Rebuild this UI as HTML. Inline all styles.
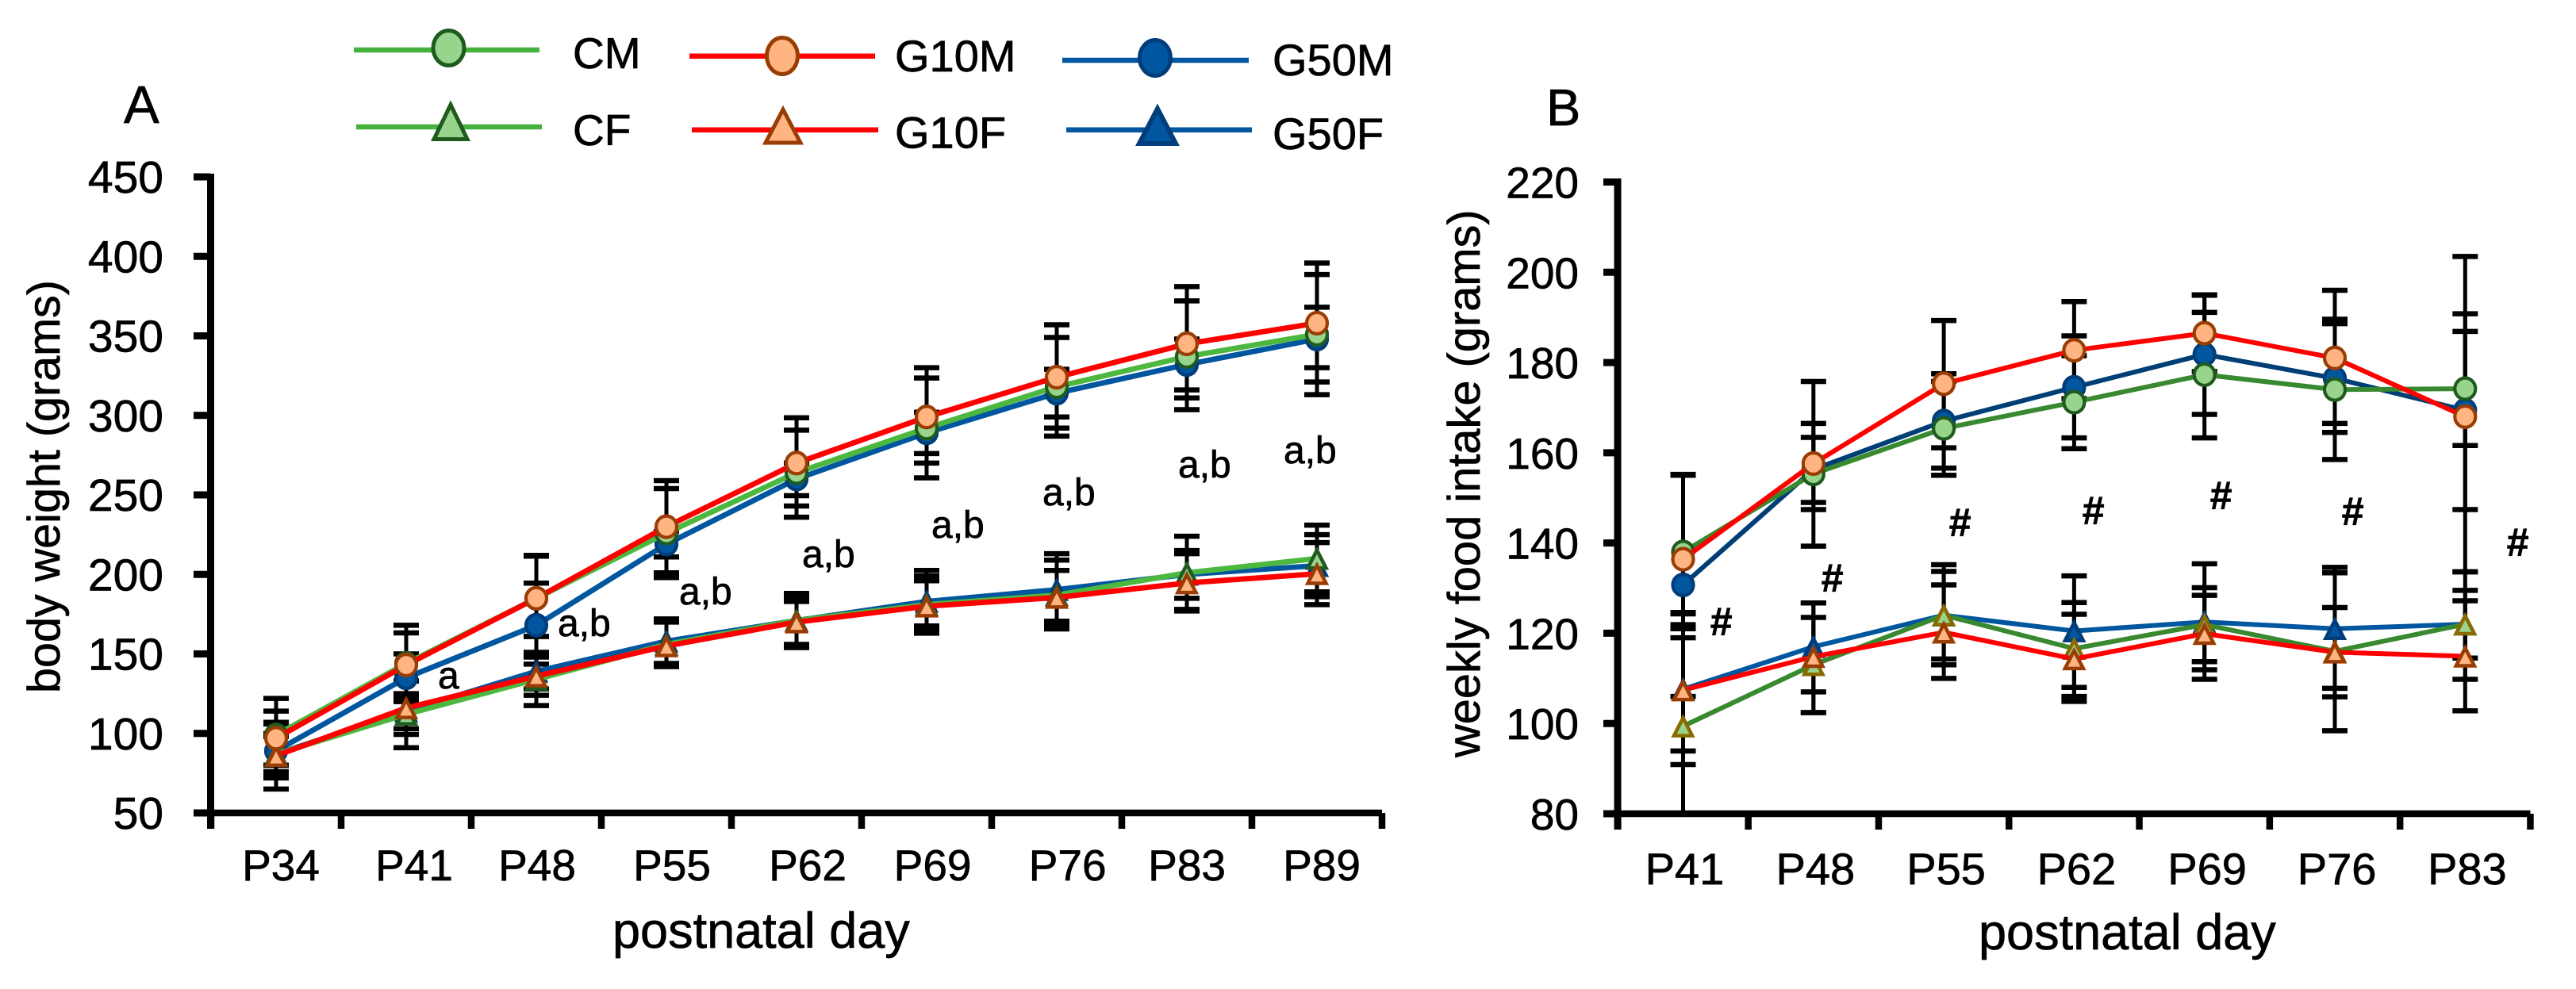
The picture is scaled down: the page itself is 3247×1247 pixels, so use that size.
<!DOCTYPE html>
<html lang="en">
<head>
<meta charset="utf-8">
<title>Body weight and weekly food intake by postnatal day</title>
<style>
  html, body { margin: 0; padding: 0; background: #fff; }
  svg { display: block; }
  text { font-family: "Liberation Sans", Arial, sans-serif; fill: #000; stroke: #000; stroke-width: 0.7px; }
</style>
</head>
<body>
<svg id="figure" xmlns="http://www.w3.org/2000/svg" width="3247" height="1247" viewBox="0 0 3247 1247">
  <rect x="0" y="0" width="3247" height="1247" fill="#fff"/>

  <g id="legend">
    <g>
      <line x1="446" y1="63" x2="680" y2="63" stroke="#46b13c" stroke-width="6.5"/>
      <ellipse cx="565.5" cy="60.5" rx="19.5" ry="22" fill="#98d48c" stroke="#1f5a1f" stroke-width="5"/>
      <text x="722" y="86" font-size="55">CM</text>
    </g>
    <g>
      <line x1="449" y1="160" x2="683" y2="160" stroke="#46b13c" stroke-width="6.5"/>
      <polygon points="568,132 589,175.5 547,175.5" fill="#98d48c" stroke="#1f5a1f" stroke-width="5"/>
      <text x="722" y="183" font-size="55">CF</text>
    </g>
    <g>
      <line x1="869" y1="70.7" x2="1103" y2="70.7" stroke="#ff0000" stroke-width="6.5"/>
      <ellipse cx="986" cy="70.5" rx="19.5" ry="23" fill="#ffb482" stroke="#9a3d05" stroke-width="5"/>
      <text x="1128" y="90" font-size="56">G10M</text>
    </g>
    <g>
      <line x1="872" y1="163.7" x2="1107" y2="163.7" stroke="#ff0000" stroke-width="6.5"/>
      <polygon points="987,138 1009,180 965,180" fill="#ffb482" stroke="#9a3d05" stroke-width="5"/>
      <text x="1128" y="186.7" font-size="56">G10F</text>
    </g>
    <g>
      <line x1="1339" y1="76" x2="1574" y2="76" stroke="#00569f" stroke-width="6.5"/>
      <ellipse cx="1456" cy="73" rx="19.5" ry="22.5" fill="#00569f" stroke="#003d7a" stroke-width="5"/>
      <text x="1604" y="95" font-size="56">G50M</text>
    </g>
    <g>
      <line x1="1344" y1="163.7" x2="1578" y2="163.7" stroke="#00569f" stroke-width="6.5"/>
      <polygon points="1459,137 1482,181 1436,181" fill="#00569f" stroke="#003d7a" stroke-width="6"/>
      <text x="1604" y="188" font-size="56">G50F</text>
    </g>
  </g>

  <text x="156" y="155" font-size="67">A</text>
  <text x="1949" y="158" font-size="65">B</text>

  <text transform="translate(75,874) rotate(-90)" font-size="57.5">body weight (grams)</text>
  <text transform="translate(1865,955) rotate(-90)" font-size="57.8">weekly food intake (grams)</text>
  <text x="772" y="1195" font-size="63">postnatal day</text>
  <text x="2494" y="1197" font-size="63">postnatal day</text>

  <g id="chart-a"></g>
  <g id="chart-b"></g>

  <g font-size="48">
    <text x="552" y="868">a</text>
    <text x="703" y="802">a,b</text>
    <text x="856" y="762">a,b</text>
    <text x="1011" y="715">a,b</text>
    <text x="1174" y="678">a,b</text>
    <text x="1314" y="637">a,b</text>
    <text x="1485" y="602">a,b</text>
    <text x="1618" y="584">a,b</text>
  </g>
  <g font-size="50" font-weight="bold" font-style="italic">
    <text x="2155" y="801">#</text>
    <text x="2295" y="746">#</text>
    <text x="2456" y="676">#</text>
    <text x="2624" y="661">#</text>
    <text x="2785" y="642">#</text>
    <text x="2951" y="662">#</text>
    <text x="3159" y="701">#</text>
  </g>
</svg>

<script>
/* ---------- Panel A: body weight (grams) ---------- */
const aDays = ['P34','P41','P48','P55','P62','P69','P76','P83','P89'];
const aTicks = [50,100,150,200,250,300,350,400,450];

const aCM     = [99,144,185,226,264,292,318,337,351];
const aCMHi   = [122,168,211.5,254,290.7,323.5,349,372,388.6];
const aCMLo   = [76,123,161,198,236,260.7,287,303.6,313];

const aCF     = [87,112,134,156,171,181,187,201,210];
const aCFHi   = [107,133,151,171.5,188,202.5,209,224,231];
const aCFLo   = [65,91,117.5,143,155,163,165.7,178,189];

const aG10M   = [97,143,185,230,270,299,324,345,358];
const aG10MHi = [114,163.2,212,259,298.5,330,357,381,395.8];
const aG10MLo = [80,124,161,201,243,270,292,311,321];

const aG10F   = [86,116,136,155,170,180,185.5,194.6,200.4];
const aG10FHi = [98,133,148,170,183,196,202.5,213,220];
const aG10FLo = [74,99.4,124,142,154,165,168,177,181];

const aG50M   = [89,135,168,219,260,289,314,332,348];
const aG50MHi = [106,150,194.5,227,270,302,329,348,368];
const aG50MLo = [72,120,143.6,211,249.5,276,299,316,330];

const aG50F   = [87,114,139,158,171,183,190.4,200,205.5];
const aG50FHi = [100,125,150,172,186,199,213,215,225];
const aG50FLo = [80,103,128,144,156,167.6,170.6,185,186];

/* ---------- Panel B: weekly food intake (grams) ---------- */
const bDays = ['P41','P48','P55','P62','P69','P76','P83'];
const bTicks = [80,100,120,140,160,180,200,220];

const bCM     = [138,155.3,165.4,171.2,177.3,174,174.2];
const bCMHi   = [155,166.5,175.8,181.5,191.1,189.6,203.5];
const bCMLo   = [121,147.4,155,160.9,163.3,158.5,147.4];

const bCF     = [99.4,113,124,116.6,121.9,116,122];
const bCFHi   = [124.3,123.5,135.2,126.8,130.1,134.6,133.6];
const bCFLo   = [80,102.4,113,106,113.7,98.4,109.8];

const bG10M   = [136.4,157.6,175.3,182.7,186.5,181,168];
const bG10MHi = [155,175.8,189.3,193.5,194.9,196,190.8];
const bG10MLo = [119,139.3,161.1,172,178,166.5,133.6];

const bG10F   = [107.4,114.8,120.2,114.3,119.9,115.8,114.9];
const bG10FHi = [124.6,126.7,130.7,124.2,128.4,125.7,127.2];
const bG10FLo = [90.9,102.4,110,104.9,111.9,105.9,102.8];

const bG50M   = [130.7,156.3,167,174.5,181.8,176.5,169.4];
const bG50MHi = [155.2,163.4,177.5,185.9,195,188.6,186.9];
const bG50MLo = [106,149,156.6,163.3,168.5,164.5,161.6];

const bG50F   = [107.6,117,124,120.5,122.5,121,122];
const bG50FHi = [121.9,126.7,133.7,132.7,135.4,133.4,129.5];
const bG50FLo = [93.9,107,114.3,108,109.8,107.8,114.5];

/* ---------- axis functions ---------- */
function xA(i) { return 348 + i * 164; }
function yA(v) { return 1025 - (v - 50) * 802 / 400; }
function xB(i) { return 2121.5 + i * 164.3; }
function yB(v) { return 1026 - (v - 80) * 796.5 / 140; }

const NS = 'http://www.w3.org/2000/svg';

function make(tag, parent, attrs, label) {
  const el = document.createElementNS(NS, tag);
  for (const k in attrs) el.setAttribute(k, attrs[k]);
  
  
  parent.appendChild(el);
  return el;
}

function drawErrorBars(root, x, y, hi, lo, label) {
  const g = make('g', root, {}, label + '-error-bars');
  hi.forEach(function (h, i) {
    const cx = x(i);
    make('line', g, { x1: cx, x2: cx, y1: y(h), y2: y(lo[i]), stroke: '#000', 'stroke-width': 5 }, label + '-error-stem');
    make('line', g, { x1: cx - 16, x2: cx + 16, y1: y(h), y2: y(h), stroke: '#000', 'stroke-width': 6.5 }, label + '-error-cap-high');
    make('line', g, { x1: cx - 16, x2: cx + 16, y1: y(lo[i]), y2: y(lo[i]), stroke: '#000', 'stroke-width': 6.5 }, label + '-error-cap-low');
  });
}

function drawSeries(root, x, y, vals, style, label, lineWidth) {
  const g = make('g', root, {}, label + '-series');
  const pts = vals.map(function (v, i) { return x(i) + ',' + y(v); }).join(' ');
  make('polyline', g, { points: pts, fill: 'none', stroke: style.line, 'stroke-width': lineWidth, 'stroke-linejoin': 'round' }, label + '-line');
  vals.forEach(function (v, i) {
    const cx = x(i), cy = y(v);
    if (style.shape === 'circle') {
      make('ellipse', g, { cx: cx, cy: cy, rx: 13, ry: 13.5, fill: style.fill, stroke: style.edge, 'stroke-width': 4.2 }, label + '-point');
    } else {
      const tri = cx + ',' + (cy - 10.5) + ' ' + (cx + 11.5) + ',' + (cy + 12) + ' ' + (cx - 11.5) + ',' + (cy + 12);
      make('polygon', g, { points: tri, fill: style.fill, stroke: style.edge, 'stroke-width': 4.5 }, label + '-point');
    }
  });
}

function drawAxes(root, x0, yTop, yBase, tickX, yTickLeft, y, ticks, labelRight, fontY) {
  const g = make('g', root, {}, 'axes');
  const x1 = tickX[tickX.length - 1];
  make('line', g, { x1: x0, x2: x0, y1: yTop, y2: yBase + 20, stroke: '#000', 'stroke-width': 9 }, 'y-axis-line');
  make('line', g, { x1: x0 - 4, x2: x1, y1: yBase, y2: yBase, stroke: '#000', 'stroke-width': 8.5 }, 'x-axis-line');
  ticks.forEach(function (t) {
    make('line', g, { x1: yTickLeft, x2: x0, y1: y(t), y2: y(t), stroke: '#000', 'stroke-width': 9 }, 'y-tick-mark');
    const lab = make('text', g, { x: labelRight, y: y(t) + 20, 'text-anchor': 'end', 'font-size': fontY }, 'y-tick-label');
    lab.textContent = t;
  });
  tickX.forEach(function (tx) {
    make('line', g, { x1: tx, x2: tx, y1: yBase, y2: yBase + 20, stroke: '#000', 'stroke-width': 8.5 }, 'x-tick-mark');
  });
  return g;
}

function drawPanel(root, x, y, days, groups, axisCfg, labelShift, labelY, labelSize) {
  groups.forEach(function (s) { drawErrorBars(root, x, y, s.hi, s.lo, s.name); });
  groups.forEach(function (s) { drawSeries(root, x, y, s.vals, s.style, s.name, axisCfg.lineWidth); });
  const tickX = [];
  for (let i = 0; i <= days.length; i++) tickX.push(x(i) - axisCfg.step / 2 - axisCfg.tickShift);
  const g = drawAxes(root, axisCfg.x0, axisCfg.yTop, axisCfg.yBase, tickX, axisCfg.tickLeft, y, axisCfg.ticks, axisCfg.labelRight, axisCfg.fontY);
  days.forEach(function (d, i) {
    const lab = make('text', g, { x: x(i) + labelShift[i], y: labelY, 'text-anchor': 'middle', 'font-size': labelSize }, 'x-tick-label');
    lab.textContent = d;
  });
}

const redCircle = { shape: 'circle', line: '#ff0000', fill: '#ffb482', edge: '#9a3d05' };
const redTri    = { shape: 'tri',    line: '#ff0000', fill: '#ffb482', edge: '#9a3d05' };

drawPanel(document.getElementById('chart-a'), xA, yA, aDays, [
  { name: 'g50f', vals: aG50F, hi: aG50FHi, lo: aG50FLo, style: { shape: 'tri', line: '#00569f', fill: '#00569f', edge: '#003d7a' } },
  { name: 'g50m', vals: aG50M, hi: aG50MHi, lo: aG50MLo, style: { shape: 'circle', line: '#00569f', fill: '#00569f', edge: '#003d7a' } },
  { name: 'cf',   vals: aCF,   hi: aCFHi,   lo: aCFLo,   style: { shape: 'tri', line: '#4db840', fill: '#98d48c', edge: '#1f5a1f' } },
  { name: 'cm',   vals: aCM,   hi: aCMHi,   lo: aCMLo,   style: { shape: 'circle', line: '#4db840', fill: '#98d48c', edge: '#1f5a1f' } },
  { name: 'g10f', vals: aG10F, hi: aG10FHi, lo: aG10FLo, style: redTri },
  { name: 'g10m', vals: aG10M, hi: aG10MHi, lo: aG10MLo, style: redCircle }
], { x0: 265.5, yTop: 219, yBase: 1025, step: 164, tickShift: 0, tickLeft: 244, ticks: aTicks, labelRight: 206, fontY: 57, lineWidth: 6.8 },
   [6, 10, 1, 7, 14, 7.6, 13.7, 0, 6], 1110, 55);

drawPanel(document.getElementById('chart-b'), xB, yB, bDays, [
  { name: 'g50f', vals: bG50F, hi: bG50FHi, lo: bG50FLo, style: { shape: 'tri', line: '#00569f', fill: '#00569f', edge: '#003d7a' } },
  { name: 'g50m', vals: bG50M, hi: bG50MHi, lo: bG50MLo, style: { shape: 'circle', line: '#003f75', fill: '#00569f', edge: '#003d7a' } },
  { name: 'cf',   vals: bCF,   hi: bCFHi,   lo: bCFLo,   style: { shape: 'tri', line: '#38892f', fill: '#98d48c', edge: '#8a6a00' } },
  { name: 'cm',   vals: bCM,   hi: bCMHi,   lo: bCMLo,   style: { shape: 'circle', line: '#38892f', fill: '#98d48c', edge: '#1f5a1f' } },
  { name: 'g10f', vals: bG10F, hi: bG10FHi, lo: bG10FLo, style: redTri },
  { name: 'g10m', vals: bG10M, hi: bG10MHi, lo: bG10MLo, style: redCircle }
], { x0: 2039, yTop: 225, yBase: 1026, step: 164.3, tickShift: 0, tickLeft: 2021, ticks: bTicks, labelRight: 1990, fontY: 55, lineWidth: 6 },
   [2, 2.5, 3, 3, 3.4, 2.6, 2.5], 1115, 56);
</script>
</body>
</html>
